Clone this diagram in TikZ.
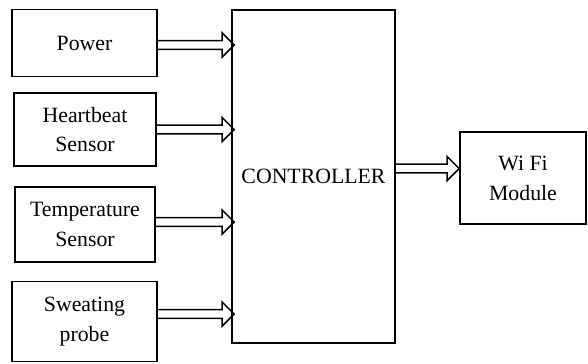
\documentclass[tikz,border=0pt]{standalone}
\usepackage{fontspec}
\setmainfont{Liberation Serif}
\usetikzlibrary{arrows.meta,positioning,calc}

\tikzset{
  blk/.style={draw, line width=1pt, align=center, inner sep=0pt,
    font=\fontsize{12.4}{17}\selectfont},
  % hollow double arrow drawn as an outline
  dbl/.style={draw, line width=0.9pt, line join=miter, to path={
    ($(\tikztostart)+(0,2.5pt)$) -- ($(\tikztotarget)+(-6.8pt,2.5pt)$)
    -- ($(\tikztotarget)+(-6.8pt,6.8pt)$) -- (\tikztotarget)
    -- ($(\tikztotarget)+(-6.8pt,-6.8pt)$) -- ($(\tikztotarget)+(-6.8pt,-2.5pt)$)
    -- ($(\tikztostart)+(0,-2.5pt)$)}}
}

\begin{document}
\begin{tikzpicture}[x=0.02cm,y=-0.02cm]
\useasboundingbox (0,0) rectangle (588,363);
% input blocks
\node[blk, minimum width=2.9cm, minimum height=1.34cm] (pw) at (84.5,43) {Power};
\node[blk, minimum width=2.84cm, minimum height=1.46cm] (hb) at (85,129.5) {Heartbeat\\Sensor};
\node[blk, minimum width=2.8cm, minimum height=1.5cm] (tp) at (85,224.5) {Temperature\\Sensor};
\node[blk, minimum width=2.9cm, minimum height=1.6cm] (sw) at (84.5,321.5) {Sweating\\probe};
% controller and output
\node[blk, minimum width=3.26cm, minimum height=6.66cm] (ctrl) at (313.5,176.5) {CONTROLLER};
\node[blk, minimum width=2.52cm, minimum height=1.84cm] (wifi) at (523,178) {Wi Fi\\Module};
% connectors
\draw[dbl] ([yshift=-0.04cm]pw.east) to ([yshift=-0.04cm,xshift=0.06cm]pw.east -| ctrl.west);
\draw[dbl] (hb.east) to ([xshift=0.06cm]hb.east -| ctrl.west);
\draw[dbl] ([yshift=0.05cm]tp.east) to ([yshift=0.05cm,xshift=0.06cm]tp.east -| ctrl.west);
\draw[dbl] ([yshift=0.15cm]sw.east) to ([yshift=0.15cm,xshift=0.06cm]sw.east -| ctrl.west);
\draw[dbl] ([yshift=0.16cm]ctrl.east) to ([yshift=0.16cm]ctrl.east -| wifi.west);
\end{tikzpicture}
\end{document}
